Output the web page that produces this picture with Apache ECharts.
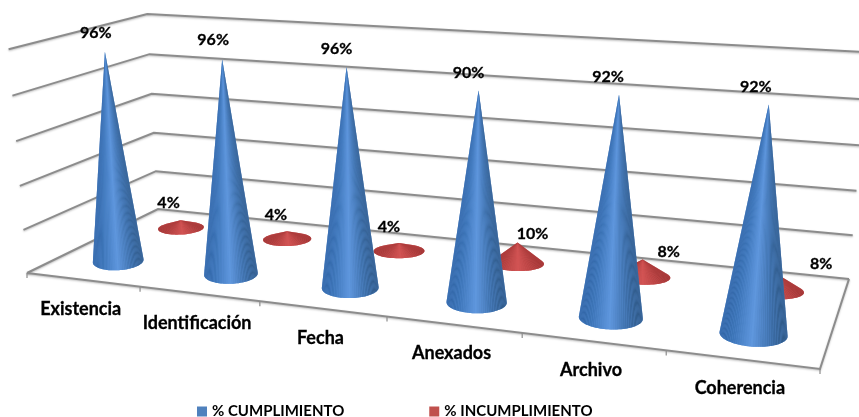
<!DOCTYPE html>
<html>
<head>
<meta charset="utf-8">
<style>html,body{margin:0;padding:0;background:#fff}#chart{width:859px;height:417px}</style>
<script src="https://cdn.jsdelivr.net/npm/echarts@6/dist/echarts.min.js"></script>
</head>
<body>
<div id="chart"></div>
<script>
// Chart data
const categories = ['Existencia', 'Identificación', 'Fecha', 'Anexados', 'Archivo', 'Coherencia'];
const cumplimiento = [96, 96, 96, 90, 92, 92];
const incumplimiento = [4, 4, 4, 10, 8, 8];
const valueTicks = [0, 20, 40, 60, 80, 100];

// Nudges for the value labels, relative to each cone's tip
const cumplimientoLabelShift = [[-9, -19], [-9, -19], [-10, -18], [-10, -17], [-11, -18], [-13, -17]];
const incumplimientoLabelShift = [[-12, -17], [-11, -16], [-10, -16], [15, -9], [26, -8], [46, -9]];

// Floor corners on screen: front-left, front-right, back-right, back-left
const floorQuad = [[27, 273], [820, 369], [849, 279], [158, 209]];
// Where known box positions (u, depth, weight) at full height land on screen; calibrates the camera
const ceilAnchors = [
  [0, 0, 8, 48, 4], [0, 1, 149, 13, 6], [1, 1, 869, 52, 6],
  [1 / 12, 0.27, 104.5, 43.4, 1], [3 / 12, 0.27, 221.7, 51, 1], [5 / 12, 0.27, 345.9, 59, 1],
  [7 / 12, 0.27, 477.1, 67.6, 1], [9 / 12, 0.27, 617.6, 76.7, 1], [11 / 12, 0.27, 768.1, 85.2, 1]
];

function squareToQuad(q) {
  const [[x0, y0], [x1, y1], [x2, y2], [x3, y3]] = q;
  const dx1 = x1 - x2, dx2 = x3 - x2, sx = x0 - x1 + x2 - x3;
  const dy1 = y1 - y2, dy2 = y3 - y2, sy = y0 - y1 + y2 - y3;
  const den = dx1 * dy2 - dx2 * dy1;
  const g = (sx * dy2 - dx2 * sy) / den, h = (dx1 * sy - sx * dy1) / den;
  return {
    a: x1 - x0 + g * x1, b: x3 - x0 + h * x3, c: x0,
    d: y1 - y0 + g * y1, e: y3 - y0 + h * y3, f: y0, g, h
  };
}
const H = squareToQuad(floorQuad);

// Weighted least-squares fit of the camera's height column (p, q, i)
function fitHeightColumn(anchors) {
  const M = [[0, 0, 0, 0], [0, 0, 0, 0], [0, 0, 0, 0]];
  const addRow = (r, rhs, wt) => {
    for (let j = 0; j < 3; j++) {
      for (let k = 0; k < 3; k++) M[j][k] += wt * r[j] * r[k];
      M[j][3] += wt * r[j] * rhs;
    }
  };
  anchors.forEach(([u, v, x, y, wt]) => {
    const w = H.g * u + H.h * v + 1;
    addRow([1, 0, -x], x * w - (H.a * u + H.b * v + H.c), wt);
    addRow([0, 1, -y], y * w - (H.d * u + H.e * v + H.f), wt);
  });
  for (let i = 0; i < 3; i++) {
    let piv = i;
    for (let r = i + 1; r < 3; r++) if (Math.abs(M[r][i]) > Math.abs(M[piv][i])) piv = r;
    [M[i], M[piv]] = [M[piv], M[i]];
    for (let r = 0; r < 3; r++) {
      if (r === i) continue;
      const f = M[r][i] / M[i][i];
      for (let k = i; k < 4; k++) M[r][k] -= f * M[i][k];
    }
  }
  return [M[0][3] / M[0][0], M[1][3] / M[1][1], M[2][3] / M[2][2]];
}
const [camP, camQ, camI] = fitHeightColumn(ceilAnchors);

// u: across the categories, depth: front to back, level: floor to ceiling (all 0..1)
function project(u, depth, level) {
  const w = H.g * u + H.h * depth + 1 + camI * level;
  return [
    (H.a * u + H.b * depth + H.c + camP * level) / w,
    (H.d * u + H.e * depth + H.f + camQ * level) / w
  ];
}

// Read the grid's scales and turn a data pair into unit-box coordinates
function unitCoords(api, params, cat, value) {
  const p = api.coord([cat, value]);
  const s = params.coordSys;
  return [(p[0] - s.x) / s.width, 1 - (p[1] - s.y) / s.height];
}

function hex(c) { return [1, 3, 5].map(i => parseInt(c.substr(i, 2), 16)); }
function ramp(stops, p) {
  for (let i = 1; i < stops.length; i++) {
    if (p <= stops[i][0]) {
      const t = (p - stops[i - 1][0]) / (stops[i][0] - stops[i - 1][0]);
      const a = hex(stops[i - 1][1]), b = hex(stops[i][1]);
      return 'rgb(' + a.map((v, k) => Math.round(v + (b[k] - v) * t)).join(',') + ')';
    }
  }
  return stops[stops.length - 1][1];
}

const fontStack = 'Lato, "Open Sans", sans-serif';

// A cone as a fan of facets from the tip to the base ellipse, shaded by facet direction
function coneRenderer(depth, radius, flatness, stops, shifts) {
  return function (params, api) {
    const cat = api.value(0), value = api.value(1);
    const [u, level] = unitCoords(api, params, cat, value);
    const c = project(u, depth, 0), top = project(u, depth, 1), tip = project(u, depth, level);
    const axLen = Math.hypot(top[0] - c[0], top[1] - c[1]);
    const up = [(top[0] - c[0]) / axLen, (top[1] - c[1]) / axLen];
    const right = [-up[1], up[0]];
    const e1 = project(u - radius / categories.length, depth, 0);
    const e2 = project(u + radius / categories.length, depth, 0);
    const rx = Math.hypot(e2[0] - e1[0], e2[1] - e1[1]) / 2;
    const ry = rx * flatness;
    const D = Math.hypot(tip[0] - c[0], tip[1] - c[1]) / ry;
    const t0 = D > 1 ? Math.asin(-1 / D) : -Math.PI / 2;
    const t1 = Math.PI - t0;
    const n = 48;
    const at = t => [
      c[0] + right[0] * rx * Math.cos(t) - up[0] * ry * Math.sin(t),
      c[1] + right[1] * rx * Math.cos(t) - up[1] * ry * Math.sin(t)
    ];
    const outline = [tip];
    for (let i = 0; i <= n; i++) outline.push(at(t0 + (t1 - t0) * i / n));
    const children = [{
      type: 'polygon', shape: { points: outline }, style: { fill: ramp(stops, 0.5) }
    }];
    for (let i = 0; i < n; i++) {
      const a = t0 + (t1 - t0) * i / n, b = t0 + (t1 - t0) * (i + 1) / n;
      children.push({
        type: 'polygon',
        shape: { points: [tip, at(a), at(b)] },
        style: { fill: ramp(stops, (Math.cos((a + b) / 2) + 1) / 2) }
      });
    }
    const shift = shifts[cat];
    children.push({
      type: 'text',
      style: {
        text: value + '%', x: tip[0] + shift[0], y: tip[1] + shift[1],
        align: 'center', verticalAlign: 'middle',
        font: 'bold 16px ' + fontStack, fill: '#000', stroke: '#000', lineWidth: 0.3
      }
    });
    return { type: 'group', children };
  };
}

const lineStyle = {
  fill: 'none', stroke: '#8c8c8c', lineWidth: 2,
  shadowColor: 'rgba(0,0,0,0.25)', shadowBlur: 2, shadowOffsetY: 1
};

// Left wall, back wall and floor lines for one value level
function renderLevel(params, api) {
  const [, level] = unitCoords(api, params, 0, api.value(0));
  const children = [{
    type: 'polyline',
    shape: { points: [project(0, 0, level), project(0, 1, level), project(1, 1, level)] },
    style: lineStyle
  }];
  if (level === 0) {
    children.push({
      type: 'polyline',
      shape: { points: [project(0, 0, 0), project(1, 0, 0), project(1, 1, 0)] },
      style: lineStyle
    });
    for (let i = 0; i <= categories.length; i++) {
      const p = project(i / categories.length, 0, 0);
      children.push({
        type: 'line',
        shape: { x1: p[0], y1: p[1], x2: p[0], y2: p[1] + 5 },
        style: { stroke: '#8c8c8c', lineWidth: 1.2 }
      });
    }
  }
  return { type: 'group', children };
}

// Category names follow the slanted front edge of the floor
function renderCategory(params, api) {
  const cat = api.value(0);
  const [u] = unitCoords(api, params, cat, 0);
  const p = project(u, 0, 0);
  return {
    type: 'text',
    style: {
      text: categories[cat], x: p[0] - 2, y: p[1] + 29,
      align: 'center', verticalAlign: 'middle',
      font: 'bold 18px ' + fontStack, fill: '#000', stroke: '#000', lineWidth: 0.3
    }
  };
}

const blueStops = [[0, '#2f62a2'], [0.2, '#3d75b8'], [0.48, '#5f97de'], [0.75, '#3f71ac'], [1, '#2c5480']];
const redStops = [[0, '#a03636'], [0.3, '#bc4747'], [0.52, '#d25454'], [0.8, '#b64343'], [1, '#9e3434']];

const chart = echarts.init(document.getElementById('chart'), null, { renderer: 'canvas' });
chart.setOption({
  animation: false,
  backgroundColor: '#fff',
  grid: { left: 0, right: 0, top: 0, bottom: 0 },
  xAxis: { type: 'category', data: categories, show: false },
  yAxis: { type: 'value', min: 0, max: 100, interval: 20, show: false },
  legend: {
    left: 192, top: 399, itemWidth: 10, itemHeight: 10, itemGap: 85, icon: 'rect',
    data: ['% CUMPLIMIENTO', '% INCUMPLIMIENTO'],
    textStyle: { fontFamily: fontStack, fontWeight: 'bold', fontSize: 15, color: '#000' }
  },
  series: [
    {
      type: 'custom', name: 'levels', z: 1, silent: true,
      renderItem: renderLevel, data: valueTicks.map(v => [v]), encode: { y: 0 }
    },
    {
      type: 'custom', name: 'categories', z: 1, silent: true,
      renderItem: renderCategory, data: categories.map((c, i) => [i]), encode: { x: 0 }
    },
    {
      type: 'custom', name: '% INCUMPLIMIENTO', z: 2,
      itemStyle: { color: '#c0504d' },
      renderItem: coneRenderer(0.76, 0.22, 0.28, redStops, incumplimientoLabelShift),
      data: incumplimiento.map((v, i) => [i, v]), encode: { x: 0, y: 1 }
    },
    {
      type: 'custom', name: '% CUMPLIMIENTO', z: 3,
      itemStyle: { color: '#4f81bd' },
      renderItem: coneRenderer(0.255, 0.23, 0.36, blueStops, cumplimientoLabelShift),
      data: cumplimiento.map((v, i) => [i, v]), encode: { x: 0, y: 1 }
    }
  ]
});
</script>
</body>
</html>
